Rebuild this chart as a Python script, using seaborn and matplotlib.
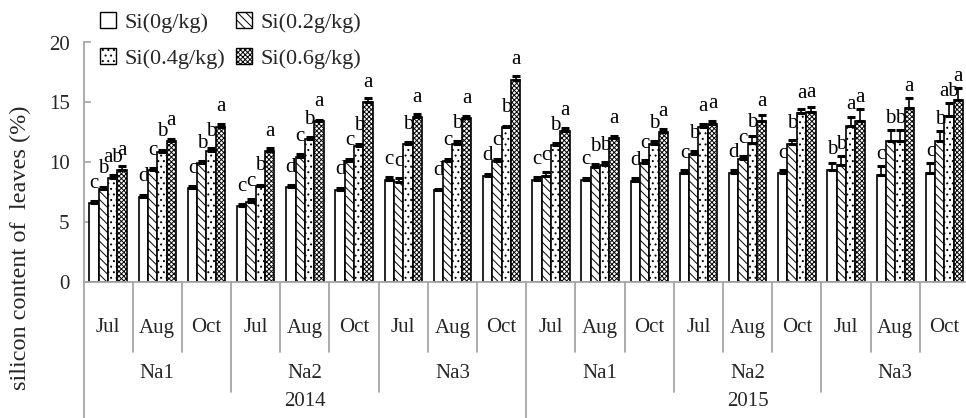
import numpy as np
import pandas as pd
import matplotlib
matplotlib.use('Agg')
import matplotlib.pyplot as plt
import seaborn as sns
from matplotlib.patches import Patch
from matplotlib.transforms import blended_transform_factory

# ---------------- data ----------------
years = ['2014', '2015']
salts = ['Na1', 'Na2', 'Na3']
months = ['Jul', 'Aug', 'Oct']
levels = ['Si(0g/kg)', 'Si(0.2g/kg)', 'Si(0.4g/kg)', 'Si(0.6g/kg)']

si0 = [6.55, 7.1, 7.8, 6.3, 7.9, 7.7, 8.5, 7.65, 8.85, 8.5, 8.5, 8.45, 9.05, 9.1, 9.05, 9.35, 8.9, 9.1]
si02 = [7.75, 9.3, 9.9, 6.7, 10.45, 10.1, 8.35, 10.1, 10.1, 8.85, 9.6, 9.9, 10.7, 10.3, 11.55, 9.75, 11.8, 11.8]
si04 = [8.7, 10.85, 10.9, 8.0, 11.9, 11.35, 11.5, 11.55, 12.9, 11.4, 9.75, 11.55, 12.95, 11.6, 14.1, 13.0, 11.8, 13.85]
si06 = [9.3, 11.8, 12.95, 10.9, 13.4, 15.0, 13.75, 13.65, 16.9, 12.6, 12.0, 12.55, 13.2, 13.4, 14.15, 13.4, 14.5, 15.2]

err0 = [0.2, 0.15, 0.2, 0.2, 0.2, 0.15, 0.25, 0.1, 0.15, 0.25, 0.2, 0.2, 0.25, 0.2, 0.25, 0.6, 0.75, 0.8]
err02 = [0.15, 0.2, 0.2, 0.2, 0.25, 0.2, 0.3, 0.2, 0.2, 0.3, 0.25, 0.25, 0.2, 0.25, 0.3, 0.75, 0.9, 0.8]
err04 = [0.25, 0.15, 0.3, 0.1, 0.2, 0.2, 0.2, 0.2, 0.15, 0.2, 0.25, 0.2, 0.2, 0.55, 0.35, 0.8, 0.9, 1.05]
err06 = [0.4, 0.15, 0.2, 0.3, 0.15, 0.35, 0.25, 0.2, 0.3, 0.25, 0.15, 0.2, 0.2, 0.55, 0.45, 1.0, 0.85, 1.0]

lab0 = ['c', 'd', 'c', 'c', 'd', 'd', 'c', 'd', 'd', 'c', 'c', 'd', 'c', 'd', 'c', 'b', 'c', 'c']
lab02 = ['b', 'c', 'b', 'c', 'c', 'c', 'c', 'c', 'c', 'c', 'b', 'c', 'b', 'c', 'b', 'b', 'b', 'b']
lab04 = ['ab', 'b', 'b', 'b', 'b', 'b', 'b', 'b', 'b', 'b', 'b', 'b', 'a', 'b', 'a', 'a', 'b', 'ab']
lab06 = ['a'] * 18

ylabel = 'silicon content of  leaves (%)'

# ---------------- style ----------------
sns.set_theme(style='white')
plt.rcParams['font.family'] = ['Liberation Serif', 'DejaVu Serif']
plt.rcParams['hatch.linewidth'] = 0.7
plt.rcParams['hatch.color'] = 'black'

GRAY = '#a6a6a6'
W, H = 966, 418

cats = [f'{y}-{s}-{m}' for y in years for s in salts for m in months]
rows = []
for lev, vals in zip(levels, [si0, si02, si04, si06]):
    for c, v in zip(cats, vals):
        rows.append({'cat': c, 'level': lev, 'value': v})
df = pd.DataFrame(rows)

fig = plt.figure(figsize=(W / 100, H / 100), dpi=100)
ax = fig.add_axes([83.5 / W, (H - 281.7) / H, 885.5 / W, 239.2 / H])

sns.barplot(data=df, x='cat', y='value', hue='level', order=cats, hue_order=levels,
            palette=['white'] * 4, saturation=1, edgecolor='black', linewidth=1.2,
            width=0.76, errorbar=None, legend=False, ax=ax)

hatches = ['', '\\\\\\\\', '...', 'xxxxxxx']
for cont, h in zip(ax.containers, hatches):
    for bar in cont:
        bar.set_hatch(h)

for cont, errs, labs in zip(ax.containers, [err0, err02, err04, err06],
                            [lab0, lab02, lab04, lab06]):
    xs = np.array([b.get_x() + b.get_width() / 2 for b in cont])
    hs = np.array([b.get_height() for b in cont])
    errs = np.array(errs)
    ax.errorbar(xs, hs, yerr=[np.zeros_like(errs), errs], fmt='none', ecolor='black',
                elinewidth=1.2, capsize=3, capthick=2.2, zorder=5)
    for x, h, e, l in zip(xs, hs, errs, labs):
        ax.text(x, h + max(1.3, e + 0.6), l, ha='center', va='baseline', fontsize=15,
                color='black', zorder=6)

ax.set_ylim(0, 20)
ax.set_xlim(-0.5, len(cats) - 0.5)
ax.set_yticks([0, 5, 10, 15, 20])
ax.tick_params(axis='y', direction='in', length=5, width=1.2, color=GRAY,
               labelsize=15, pad=10, left=True)
ax.tick_params(axis='x', length=0, labelbottom=False)
ax.set_xlabel('')
ax.set_ylabel('')
for s in ['top', 'right']:
    ax.spines[s].set_visible(False)
for s in ['left', 'bottom']:
    ax.spines[s].set_color(GRAY)
    ax.spines[s].set_linewidth(1.3)

trans = blended_transform_factory(ax.transData, fig.transFigure)


def fy(px):
    return 1 - px / H


for i in range(len(cats) + 1):
    x = i - 0.5
    if i % 9 == 0:
        bottom = H
    elif i % 3 == 0:
        bottom = 392
    else:
        bottom = 352
    ax.plot([x, x], [fy(281.7), fy(bottom)], transform=trans, color=GRAY, lw=1.3,
            clip_on=False)

for i, c in enumerate(cats):
    ax.text(i, fy(328), c.split('-')[2], ha='center', va='center', transform=trans,
            fontsize=15)
for yi, y in enumerate(years):
    for si, s in enumerate(salts):
        ax.text(yi * 9 + si * 3 + 1, fy(374), s, ha='center', va='center',
                transform=trans, fontsize=15)
    ax.text(yi * 9 + 4, fy(402), y, ha='center', va='center', transform=trans,
            fontsize=15)

fig.text(20 / W, fy(248), ylabel, rotation=90, ha='center', va='center', fontsize=17.5)

handles = [Patch(facecolor='white', edgecolor='black', hatch=h, linewidth=1.0)
           for h in hatches]
order = [0, 2, 1, 3]
fig.legend([handles[i] for i in order], [levels[i] for i in order], loc='upper left',
           bbox_to_anchor=(100 / W, 1 - 12 / H),
           ncol=2, frameon=False, fontsize=16, handlelength=0.7, handleheight=0.7,
           handletextpad=0.4, columnspacing=0.5, labelspacing=0.7, borderpad=0,
           borderaxespad=0)

fig.savefig('out.png', dpi=100)
